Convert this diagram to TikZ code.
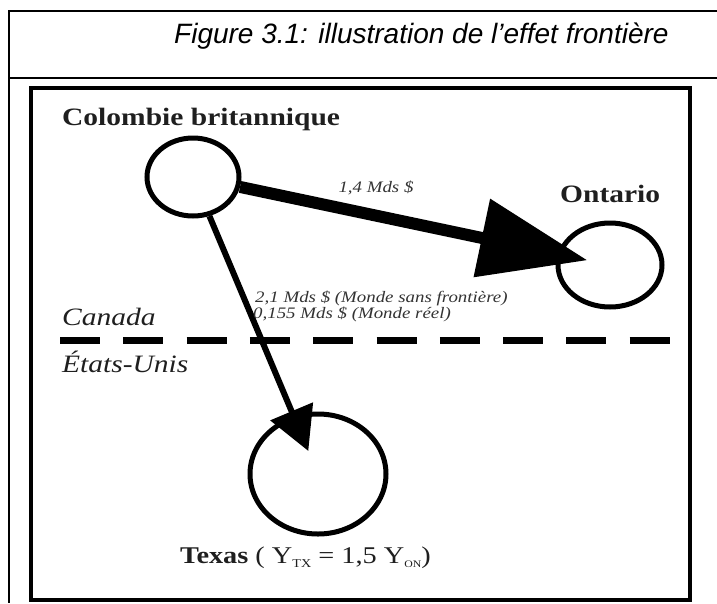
\documentclass[tikz,border=0pt]{standalone}
\usepackage{fontspec}
\setmainfont{Liberation Serif}
\newfontfamily\diagfont{Liberation Serif}[FakeStretch=1.18]
\newfontfamily\titlefont{Liberation Sans}
\usetikzlibrary{arrows.meta,shapes.geometric}
\begin{document}
\begin{tikzpicture}[x=1pt,y=-1pt,
  region/.style={draw, ellipse, line width=5pt, inner sep=0pt},
  bigtxt/.style={inner sep=0pt, anchor=base west, text=black!88,
    font=\diagfont\fontsize{25}{25}\selectfont},
  smalltxt/.style={inner sep=0pt, text=black!80,
    font=\diagfont\fontsize{16}{15}\selectfont\itshape},
  frameline/.style={line width=2.2pt},
  flow/.style={line width=#1}
]
\useasboundingbox (0,0) rectangle (717,603);
% table frame
\coordinate (tl) at (9,11);
\coordinate (tr) at (717,11);
\coordinate (ml) at (9,78);
\coordinate (mr) at (717,78);
\coordinate (bl) at (9,603);
\draw[frameline] (tr) -- (tl) -- (bl);
\draw[line width=1.8pt] (ml) -- (mr);
\node[inner sep=0pt, anchor=base west, font=\titlefont\itshape\fontsize{28}{28}\selectfont] (title) at (174,43) {Figure 3.1: illustration de l’effet frontière};
% inner frame
\draw[line width=3.5pt] (31,88) rectangle (690,600);
% regions
\node[region, minimum width=92pt, minimum height=78pt] (bc) at (193,177) {};
\node[region, minimum width=104pt, minimum height=84pt] (on) at (610,265) {};
\node[region, minimum width=136pt, minimum height=120pt] (tx) at (318,474) {};
% labels
\node[bigtxt, font=\diagfont\fontsize{25}{25}\selectfont\bfseries] (bcl) at (62,125) {Colombie britannique};
\node[bigtxt, font=\diagfont\fontsize{25}{25}\selectfont\bfseries] (onl) at (560,202) {Ontario};
\node[bigtxt, font=\diagfont\fontsize{24}{24}\selectfont] (txl) at (180,563) {\textbf{Texas} ( Y\raisebox{-4pt}{\fontsize{12}{12}\selectfont TX} = 1,5 Y\raisebox{-4pt}{\fontsize{10}{10}\selectfont ON})};
\node[bigtxt, font=\diagfont\fontsize{25}{25}\selectfont\itshape] (ca) at (62,325) {Canada};
\node[bigtxt, font=\diagfont\fontsize{25}{25}\selectfont\itshape] (us) at (62,372) {États-Unis};
% border
\coordinate (b1) at (60,340);
\coordinate (b2) at (672,340);
\draw[line width=7pt, dash pattern=on 40pt off 23.3pt] (b1) -- (b2);
% flows
\draw[flow=12pt, -{Triangle[length=108pt,width=77pt]}, shorten >=23pt] (bc) -- (on.center);
\draw[flow=6pt, -{Triangle[length=43pt,width=45pt]}, shorten >=25pt] (bc) -- (tx.center);
\node[smalltxt, anchor=base] (f1) at (376,192) {1,4 Mds \$};
\node[smalltxt, anchor=base west] (f2) at (255,302) {2,1 Mds \$ (Monde sans frontière)};
\node[smalltxt, anchor=base west] (f3) at (253,318) {0,155 Mds \$ (Monde réel)};
\end{tikzpicture}
\end{document}
